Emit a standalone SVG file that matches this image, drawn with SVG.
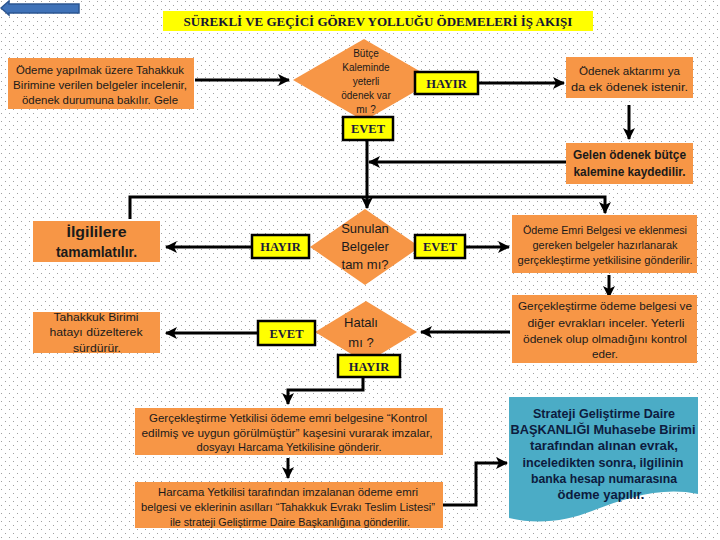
<svg xmlns="http://www.w3.org/2000/svg" width="720" height="540" viewBox="0 0 720 540">
<defs>
<pattern id="dots" x="0" y="0" width="8" height="8" patternUnits="userSpaceOnUse">
<rect x="1" y="1" width="1" height="1" fill="#a0a0a0"/>
<rect x="5" y="5" width="1" height="1" fill="#a0a0a0"/>
</pattern>
<marker id="ah" viewBox="0 0 12 12" refX="11" refY="6" markerWidth="12" markerHeight="12" markerUnits="userSpaceOnUse" orient="auto">
<path d="M0,0 L12,6 L0,12 L3,6 Z" fill="#000"/>
</marker>
<style>
.box{fill:#F79646;}
.dia{fill:#F79646;}
.lbl rect{fill:#FFFF00;stroke:#000;stroke-width:2.5;}
.lbl text{font-family:"Liberation Serif",serif;font-weight:bold;font-size:12.5px;fill:#1a1a3a;text-anchor:middle;}
.t{font-family:"Liberation Sans",Arial,sans-serif;fill:#1a1a1a;text-anchor:middle;}
.b{font-weight:bold;}
.w{fill:#0d1b3e;font-weight:bold;font-size:12px;}
.con{fill:none;stroke:#000;stroke-width:3;marker-end:url(#ah);}
</style>
</defs>
<rect width="720" height="540" fill="#fff"/>
<rect width="720" height="540" fill="url(#dots)"/>

<g id="back-arrow">
<path d="M1,8 L9,1 L9,4 L79,4 L79,13 L9,13 L9,15 Z" fill="#3F72B8" stroke="#2B5591" stroke-width="1.5"/>
</g>

<g id="title">
<rect x="163" y="11" width="430" height="20" fill="#FFFF00"/>
<text x="378" y="26" font-family="Liberation Serif,serif" font-weight="bold" font-size="13" fill="#141432" text-anchor="middle">SÜREKLİ VE GEÇİCİ GÖREV YOLLUĞU ÖDEMELERİ İŞ AKIŞI</text>
</g>

<g id="connectors">
<line class="con" x1="195" y1="80" x2="289" y2="80"/>
<line class="con" x1="479" y1="83" x2="564" y2="83"/>
<line class="con" x1="629" y1="105" x2="629" y2="139"/>
<line class="con" x1="367" y1="140" x2="367" y2="208"/>
<line class="con" x1="566" y1="162" x2="369" y2="162"/>
<polyline class="con" points="130,219 130,197 605,197 605,213"/>
<line class="con" x1="252" y1="247" x2="166" y2="247"/>
<line class="con" x1="465" y1="247" x2="509" y2="247"/>
<line class="con" x1="609" y1="275" x2="609" y2="297"/>
<line class="con" x1="510" y1="332" x2="421" y2="332"/>
<line class="con" x1="258" y1="333" x2="166" y2="333"/>
<polyline class="con" points="363,377 363,390 288,390 288,404"/>
<line class="con" x1="288" y1="458" x2="288" y2="478"/>
<polyline class="con" points="443,505 476,505 476,463 507,463"/>
</g>

<g id="n-incele">
<rect class="box" x="8" y="58" width="186" height="51"/>
<text class="t" font-size="11" x="100" y="74" textLength="168" lengthAdjust="spacingAndGlyphs">Ödeme yapılmak üzere Tahakkuk</text>
<text class="t" font-size="11" x="100" y="89" textLength="174" lengthAdjust="spacingAndGlyphs">Birimine verilen belgeler incelenir,</text>
<text class="t" font-size="11" x="100" y="104" textLength="156" lengthAdjust="spacingAndGlyphs">ödenek durumuna bakılır.  Gele</text>
</g>

<g id="n-butce">
<polygon class="dia" points="364,39 435,80 364,121 293,80"/>
<text class="t" font-size="10" x="366" y="57">Bütçe</text>
<text class="t" font-size="10" x="366" y="71">Kaleminde</text>
<text class="t" font-size="10" x="366" y="85">yeterli</text>
<text class="t" font-size="10" x="366" y="99">ödenek var</text>
<text class="t" font-size="10" x="366" y="113">mı ?</text>
</g>

<g id="l-hayir1" class="lbl">
<rect x="415" y="72" width="63" height="22"/>
<text x="446.5" y="88">HAYIR</text>
</g>

<g id="l-evet1" class="lbl">
<rect x="343" y="117" width="50" height="23"/>
<text x="368" y="133">EVET</text>
</g>

<g id="n-odenek">
<rect class="box" x="566" y="57" width="127" height="41"/>
<text class="t" font-size="11.5" x="629.5" y="75" textLength="101" lengthAdjust="spacingAndGlyphs">Ödenek aktarımı ya</text>
<text class="t" font-size="11.5" x="629.5" y="91" textLength="117" lengthAdjust="spacingAndGlyphs">da ek ödenek istenir.</text>
</g>

<g id="n-gelen">
<rect class="box" x="566" y="143" width="127" height="41"/>
<text class="t b" font-size="12" x="629.5" y="159" textLength="113" lengthAdjust="spacingAndGlyphs">Gelen ödenek bütçe</text>
<text class="t b" font-size="12" x="629.5" y="176" textLength="112" lengthAdjust="spacingAndGlyphs">kalemine kaydedilir.</text>
</g>

<g id="n-sunulan">
<polygon class="dia" points="365,209 420,247 365,285 310,247"/>
<text class="t" font-size="13" x="365" y="233">Sunulan</text>
<text class="t" font-size="13" x="365" y="251">Belgeler</text>
<text class="t" font-size="13" x="365" y="269">tam mı?</text>
</g>

<g id="l-hayir2" class="lbl">
<rect x="252" y="235" width="57" height="23"/>
<text x="280.5" y="251">HAYIR</text>
</g>

<g id="l-evet2" class="lbl">
<rect x="415" y="235" width="50" height="23"/>
<text x="440" y="251">EVET</text>
</g>

<g id="n-ilgililere">
<rect class="box" x="33" y="221" width="127" height="41"/>
<text class="t b" font-size="14" x="96.5" y="237" textLength="60" lengthAdjust="spacingAndGlyphs">İlgililere</text>
<text class="t b" font-size="14" x="96.5" y="257" textLength="81" lengthAdjust="spacingAndGlyphs">tamamlatılır.</text>
</g>

<g id="n-odemeemri">
<rect class="box" x="512" y="215" width="185" height="58"/>
<text class="t" font-size="11" x="605" y="234" textLength="164" lengthAdjust="spacingAndGlyphs">Ödeme Emri Belgesi ve eklenmesi</text>
<text class="t" font-size="11" x="605" y="249" textLength="145" lengthAdjust="spacingAndGlyphs">gereken belgeler hazırlanarak</text>
<text class="t" font-size="11" x="605" y="264" textLength="175" lengthAdjust="spacingAndGlyphs">gerçekleştirme yetkilisine gönderilir.</text>
</g>

<g id="n-gerceklestirme">
<rect class="box" x="512" y="295" width="185" height="68"/>
<text class="t" font-size="11.5" x="605" y="310" textLength="174" lengthAdjust="spacingAndGlyphs">Gerçekleştirme ödeme belgesi ve</text>
<text class="t" font-size="11.5" x="606" y="327" textLength="157" lengthAdjust="spacingAndGlyphs">diğer evrakları inceler. Yeterli</text>
<text class="t" font-size="11.5" x="605" y="343" textLength="164" lengthAdjust="spacingAndGlyphs">ödenek olup olmadığını kontrol</text>
<text class="t" font-size="11.5" x="605" y="358" textLength="26" lengthAdjust="spacingAndGlyphs">eder.</text>
</g>

<g id="n-hatali">
<polygon class="dia" points="366,301 417,332 366,363 315,332"/>
<text class="t" font-size="13" x="361" y="327">Hatalı</text>
<text class="t" font-size="13" x="361" y="347">mı ?</text>
</g>

<g id="l-evet3" class="lbl">
<rect x="258" y="321" width="57" height="24"/>
<text x="286.5" y="338">EVET</text>
</g>

<g id="l-hayir3" class="lbl">
<rect x="338" y="355" width="62" height="22"/>
<text x="369" y="371">HAYIR</text>
</g>

<g id="n-tahakkuk">
<rect class="box" x="33" y="312" width="127" height="41"/>
<text class="t" font-size="11.5" x="96" y="321" textLength="85" lengthAdjust="spacingAndGlyphs">Tahakkuk Birimi</text>
<text class="t" font-size="11.5" x="96" y="336" textLength="93" lengthAdjust="spacingAndGlyphs">hatayı düzelterek</text>
<text class="t" font-size="11.5" x="97" y="352" textLength="48" lengthAdjust="spacingAndGlyphs">sürdürür.</text>
</g>

<g id="n-yetkili">
<rect class="box" x="135" y="408" width="308" height="47"/>
<text class="t" font-size="11" x="288" y="422" textLength="278" lengthAdjust="spacingAndGlyphs">Gerçekleştirme Yetkilisi ödeme emri belgesine “Kontrol</text>
<text class="t" font-size="11" x="287" y="437" textLength="291" lengthAdjust="spacingAndGlyphs">edilmiş ve uygun görülmüştür” kaşesini vurarak imzalar,</text>
<text class="t" font-size="11" x="289" y="451" textLength="185" lengthAdjust="spacingAndGlyphs">dosyayı Harcama Yetkilisine gönderir.</text>
</g>

<g id="n-harcama">
<rect class="box" x="135" y="482" width="308" height="46"/>
<text class="t" font-size="11" x="288" y="496" textLength="260" lengthAdjust="spacingAndGlyphs">Harcama Yetkilisi tarafından imzalanan ödeme emri</text>
<text class="t" font-size="11" x="288" y="511" textLength="294" lengthAdjust="spacingAndGlyphs">belgesi ve eklerinin asılları “Tahakkuk Evrakı Teslim Listesi”</text>
<text class="t" font-size="11" x="290" y="526" textLength="240" lengthAdjust="spacingAndGlyphs">ile strateji Geliştirme Daire Başkanlığına gönderilir.</text>
</g>

<g id="n-strateji">
<path d="M509,397 L698,397 L698,494 C 662,486 625,498 592,511 C 566,521 538,525 509,518 Z" fill="#4BACC6"/>
<text class="t w" x="604" y="418" textLength="142" lengthAdjust="spacingAndGlyphs">Strateji Geliştirme Daire</text>
<text class="t w" x="603" y="434" textLength="185" lengthAdjust="spacingAndGlyphs">BAŞKANLIĞI Muhasebe Birimi</text>
<text class="t w" x="604" y="450" textLength="148" lengthAdjust="spacingAndGlyphs">tarafından alınan evrak,</text>
<text class="t w" x="603" y="467" textLength="161" lengthAdjust="spacingAndGlyphs">inceledikten sonra, ilgilinin</text>
<text class="t w" x="604" y="483" textLength="146" lengthAdjust="spacingAndGlyphs">banka hesap numarasına</text>
<text class="t w" x="601" y="499" textLength="87" lengthAdjust="spacingAndGlyphs">ödeme yapılır.</text>
</g>
</svg>
